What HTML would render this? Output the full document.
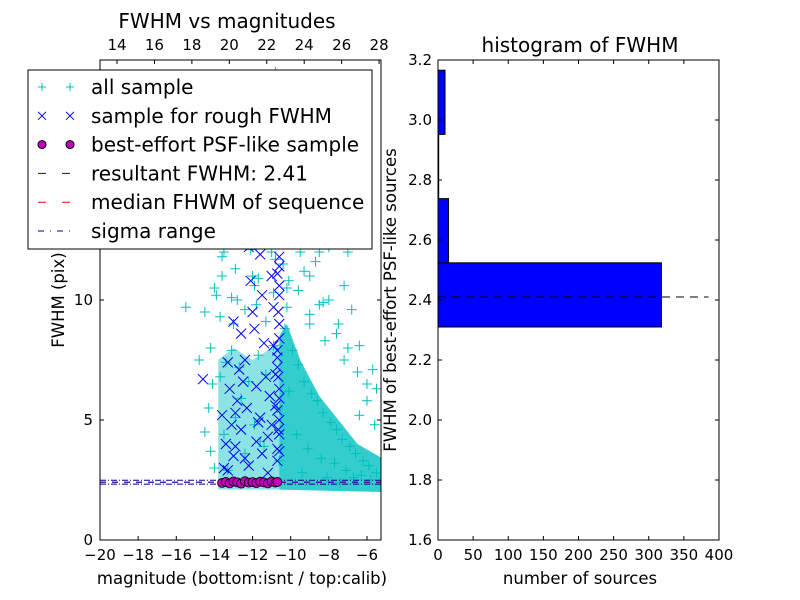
<!DOCTYPE html>
<html><head><meta charset="utf-8"><style>
body{margin:0;background:#fff;}
svg{display:block;font-family:"DejaVu Sans","Liberation Sans",sans-serif;}
</style></head><body>
<svg id="c" width="800" height="600" viewBox="0 0 800 600" xmlns="http://www.w3.org/2000/svg"></svg>
<script>
// ---- data ----
const cyanMag=[-14.5,-14,-13.5,-13,-12.5,-12,-11.5,-11,-10.5,-10,-9.5,-9,-8.5,-8,-7.5,-7,-6.5,-6,-5.5,-9.8,-11.2,-12.3,-8.7,-10.8,-13.2,-7.8,-9.2,-14.2,-14.8,-15.5,-13.6,-12.8,-11.8,-10.2,-9,-8.2,-7.2,-6.8,-8.8,-10.4,-12,-13,-13.8,-11,-9.5,-8,-7,-6,-5.6,-6.4,-14.1,-14.3,-14.5,-14.2,-14,-13.7,-13.4,-13.1,-12.7,-12.2,-11.7,-11.3,-10.9,-10.3,-9.9,-9.6,-9.3,-8.9,-8.6,-8.3,-7.9,-7.6,-7.3,-6.9,-6.6,-6.2,-5.9,-5.5,-13.5,-12.9,-12.4,-11.9,-11.4,-10.7,-10.1,-9.7,-9.1,-8.4,-7.7,-7.1,-6.7,-6.3,-5.8,-13.3,-12.6,-11.6,-10.6,-9.4,-8.1,-7.4,
 -13.9,-13.6,-13.3,-12.9,-12.6,-12.1,-11.7,-11.1,-10.8,-10.4,-10.1,-9.7,-9.3,-8.9,-8.5,-13.7,-13.1,-12.4,-11.9,-11.3,-10.9,-10.2,-9.6,-9.0,-8.3,-7.6,-13.8,-12.8,-11.5,-10.3,-9.4,-8.7,-12.2,-10.6,-9.9,-9.2,-8.0,-7.2,-6.4,-5.7];
const cyanFwhm=[9.5,10.5,12,13,12.5,14,13,12,14,13,12,11,12,10,9,8,7,6.5,6.3,16,17,18,19,19.5,15.5,14,15,8,7.5,9.7,11,10,9.8,10.5,9,8.3,7.5,9.6,13.5,11.5,11,9,13.5,15,17.5,16.5,12,5.8,4.8,5.2,6.5,5.5,4.5,3.7,3,6.8,7.4,7.9,7.2,6.6,7.7,6.9,8.1,8.8,7.9,7.3,6.6,6.1,5.8,5.3,4.9,4.6,4.2,3.9,3.6,3.3,3.1,2.8,4.4,5.1,3.6,4.8,3.9,5.5,6.2,4.4,3.8,3.4,3.2,2.9,2.6,2.7,2.5,2.9,5.9,4.1,3.3,2.8,2.6,2.4,
 10.2,11.8,12.8,11.3,13.6,12.1,10.9,13.4,11.7,12.6,10.8,13.9,11.2,12.9,9.8,9.3,10.1,9.6,10.6,9.1,10.3,9.7,10.4,9.4,9.9,8.6,12.4,14.6,14.2,15.8,13.1,11.6,16.4,16.8,14.7,18.1,12.2,10.6,8.1,7.1];
const blueMag=[-14.6,-13.6,-13.4,-13.2,-13.0,-12.8,-12.6,-12.4,-12.2,-12.0,-11.8,-11.6,-11.4,-11.2,-11.0,-10.8,-10.7,-10.6,-13.5,-13.1,-12.7,-12.3,-11.9,-11.5,-11.1,-10.9,-10.6,-10.7,-13.3,-12.9,-12.5,-12.1,-11.7,-11.3,-10.8,-10.6,-10.6,-10.7,-12.2,-11.5,-10.9,-10.6,-13.0,-12.4,-11.8,-11.2,-10.6,-10.7,-10.6,-12.0,
 -10.6,-10.65,-10.7,-10.6,-10.65,-10.7,-10.6,-10.65,-10.6,-10.7,-10.6,-10.65,-11.0,-11.3,-12.6,-12.9,-13.3,-11.6];
const blueFwhm=[6.7,5.2,4.0,6.3,3.5,5.8,4.6,7.5,3.1,9.5,6.4,5.1,8.2,4.3,11.0,6.9,3.8,12.5,3.0,4.8,7.1,5.5,8.8,3.6,6.0,9.7,4.4,7.9,2.9,3.9,6.6,10.8,4.9,12.8,5.6,6.3,9.0,3.3,12.2,10.2,8.1,11.4,9.1,3.4,4.1,2.8,5.0,7.2,10.2,13.0,
 3.7,4.6,5.4,5.9,6.8,7.6,8.4,9.5,10.6,11.1,11.8,12.9,4.8,6.8,8.6,5.3,7.4,11.9];
const magMag=[-13.6,-13.4,-13.2,-13.0,-12.8,-12.6,-12.4,-12.2,-12.0,-11.8,-11.6,-11.4,-11.2,-11.0,-10.8,-10.7];
const magFwhm=[2.38,2.42,2.36,2.44,2.40,2.35,2.45,2.39,2.41,2.37,2.43,2.40,2.36,2.44,2.39,2.42];
const resultFwhm=2.41, medianFwhm=2.40, sigmaLo=2.33, sigmaHi=2.49;
const binEdges=[2.31,2.524,2.738,2.952,3.166];
const binCounts=[318,15,1,10];
const xTicksB=[-20,-18,-16,-14,-12,-10,-8,-6];
const xTicksT=[14,16,18,20,22,24,26,28];
const yTicksL=[0,5,10];
const xTicksR=[0,50,100,150,200,250,300,350,400];
const yTicksR=[1.6,1.8,2.0,2.2,2.4,2.6,2.8,3.0,3.2];

const NS='http://www.w3.org/2000/svg', svg=document.getElementById('c');
function mk(t,a,p){const e=document.createElementNS(NS,t);for(const k in a)e.setAttribute(k,a[k]);(p||svg).appendChild(e);return e;}
function tx(s,x,y,sz,anc,p,rot){const e=mk('text',{x:x,y:y,'font-size':sz,'text-anchor':anc||'middle',fill:'#000'},p);if(rot)e.setAttribute('transform',`rotate(-90 ${x} ${y})`);e.textContent=s;return e;}
const TK=15, AL=16.5, TT=20, LG=20;
const xL=v=>100+(v+20)*19.07, yL=v=>540-v*24, xT=v=>117+(v-14)*18.72;
const gL=mk('g',{});
mk('defs',{}).innerHTML='<clipPath id="cl"><rect x="100" y="60" width="281" height="480"/></clipPath><clipPath id="cr"><rect x="438" y="60" width="281" height="480"/></clipPath>';
const pts=mk('g',{'clip-path':'url(#cl)'},gL);
const dens=[[-10.6,2.1],[-10.6,8.5],[-10.2,9],[-9.5,7.5],[-8.5,6],[-7.5,5],[-6.5,4],[-5.2,3.4],[-5.2,2],[-10.6,2.1]];
const dp=mk('polygon',{points:dens.map(d=>xL(d[0])+','+yL(d[1])).join(' '),fill:'#00c0c0',opacity:0.8},pts);

const dens2=[[-13.8,2.1],[-13.8,7.5],[-13,8],[-12,7.5],[-10.6,8.2],[-10.6,2.1]];
const dp2=mk('polygon',{points:dens2.map(d=>xL(d[0])+','+yL(d[1])).join(' '),fill:'#00c0c0',opacity:0.45},pts);

cyanMag.forEach((m,i)=>{const x=xL(m),y=yL(cyanFwhm[i]);const e=mk('path',{d:`M${x-5} ${y}h10M${x} ${y-5}v10`,stroke:'#00bfbf','stroke-width':1},pts);
});
blueMag.forEach((m,i)=>{const x=xL(m),y=yL(blueFwhm[i]);const e=mk('path',{d:`M${x-5} ${y-5}l10 10M${x-5} ${y+5}l10 -10`,stroke:'#0000ff','stroke-width':1},pts);
});
[[sigmaLo,'#000080','6,2,1,2'],[sigmaHi,'#000080','6,2,1,2'],[medianFwhm,'#ff0000','6,6'],[resultFwhm,'#0000ff','6,6']].forEach(a=>{const e=mk('line',{x1:100,x2:381,y1:yL(a[0]),y2:yL(a[0]),stroke:a[1],'stroke-dasharray':a[2],'stroke-width':1},pts);
});
magMag.forEach((m,i)=>{const e=mk('circle',{cx:xL(m),cy:yL(magFwhm[i]),r:4.5,fill:'#bf00bf',stroke:'#000','stroke-width':0.8},pts);
});
mk('rect',{x:100,y:60,width:281,height:480,fill:'none',stroke:'#000'},gL);
xTicksB.forEach(v=>{const x=xL(v);mk('path',{d:`M${x} 540v-4`,stroke:'#000'},gL);tx('\u2212'+Math.abs(v),x,560,TK,'middle',gL);});
xTicksT.forEach(v=>{const x=xT(v);mk('path',{d:`M${x} 60v4`,stroke:'#000'},gL);tx(String(v),x,50,TK,'middle',gL);});
yTicksL.forEach(v=>{const y=yL(v);mk('path',{d:`M100 ${y}h4M381 ${y}h-4`,stroke:'#000'},gL);tx(String(v),93,y+5,TK,'end',gL);});
tx('FWHM vs magnitudes',227,28,TT,'middle',gL);
tx('magnitude (bottom:isnt / top:calib)',242,584,AL,'middle',gL);
tx('FWHM (pix)',64,300,AL,'middle',gL,true);
const lg=mk('g',{});
mk('rect',{x:28,y:70,width:344,height:179,fill:'#fff',stroke:'#000'},lg);
const lab=['all sample','sample for rough FWHM','best-effort PSF-like sample','resultant FWHM: 2.41','median FHWM of sequence','sigma range'];
lab.forEach((s,i)=>{const y=87+i*28.8;
 if(i==0)[42,70].forEach(x=>mk('path',{d:`M${x-4} ${y}h8M${x} ${y-4}v8`,stroke:'#00bfbf'},lg));
 if(i==1)[42,70].forEach(x=>mk('path',{d:`M${x-4} ${y-4}l8 8M${x-4} ${y+4}l8 -8`,stroke:'#0000ff'},lg));
 if(i==2)[42,70].forEach(x=>mk('circle',{cx:x,cy:y,r:4,fill:'#bf00bf',stroke:'#000'},lg));
 if(i==3)mk('line',{x1:38,x2:74,y1:y,y2:y,stroke:'#0000ff','stroke-dasharray':'8,16'},lg);
 if(i==4)mk('line',{x1:38,x2:74,y1:y,y2:y,stroke:'#ff0000','stroke-dasharray':'8,16'},lg);
 if(i==5)mk('line',{x1:38,x2:74,y1:y,y2:y,stroke:'#000080','stroke-dasharray':'6,6,1,6'},lg);
 const t=tx(s,91,y+7,LG,'start',lg);});
const gR=mk('g',{});
const xR=v=>438+v*0.7025, yR=v=>540-(v-1.6)*300;
const hb=mk('g',{'clip-path':'url(#cr)'},gR);
binCounts.forEach((c,i)=>{const e=mk('rect',{x:438,y:yR(binEdges[i+1]),width:xR(c)-438,height:yR(binEdges[i])-yR(binEdges[i+1]),fill:'#0000ff',stroke:'#000','stroke-width':1},hb);
});
const rl=mk('line',{x1:438,x2:xR(385),y1:yR(resultFwhm),y2:yR(resultFwhm),stroke:'#000','stroke-dasharray':'8,6'},hb);

mk('rect',{x:438,y:60,width:281,height:480,fill:'none',stroke:'#000'},gR);
xTicksR.forEach(v=>{const x=xR(v);mk('path',{d:`M${x} 540v-4M${x} 60v4`,stroke:'#000'},gR);tx(String(v),x,560,TK,'middle',gR);});
yTicksR.forEach(v=>{const y=yR(v);mk('path',{d:`M438 ${y}h4M719 ${y}h-4`,stroke:'#000'},gR);tx(v.toFixed(1),432,y+5,TK,'end',gR);});
tx('histogram of FWHM',580,52,TT,'middle',gR);
tx('number of sources',580,584,AL,'middle',gR);
tx('FWHM of best-effort PSF-like sources',396,300,AL,'middle',gR,true);
</script>
</body></html>
